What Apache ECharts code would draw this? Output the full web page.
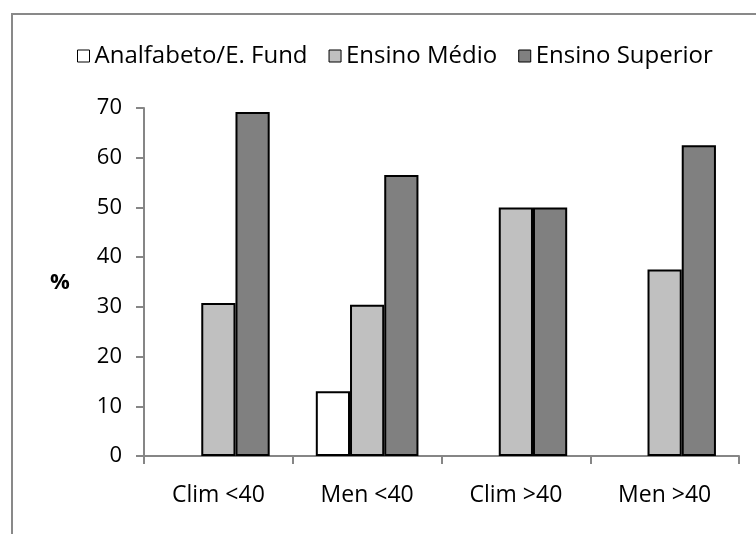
<!DOCTYPE html>
<html>
<head>
<meta charset="utf-8">
<style>
  html, body { margin: 0; padding: 0; background: #fff; }
  #chart { width: 756px; height: 534px; }
</style>
<script src="https://cdn.jsdelivr.net/npm/echarts@6/dist/echarts.min.js"></script>
</head>
<body>
<div id="chart"></div>
<script>
// Share (%) of each education level within each group
const categories = ['Clim <40', 'Men <40', 'Clim >40', 'Men >40'];
const seriesNames = ['Analfabeto/E. Fund', 'Ensino Médio', 'Ensino Superior'];
const analfabeto = [null, 13.0, null, null];
const medio = [30.8, 30.4, 50.0, 37.5];
const superior = [69.2, 56.5, 50.0, 62.5];
const yTicks = { min: 0, max: 70, interval: 10 };

const FONT = '"Open Sans", sans-serif';
const fills = ['#ffffff', '#c0c0c0', '#808080'];
const values = [analfabeto, medio, superior];

const chart = echarts.init(document.getElementById('chart'), null, { renderer: 'canvas' });

chart.setOption({
  animation: false,
  backgroundColor: '#ffffff',
  textStyle: { fontFamily: FONT },
  graphic: [{
    type: 'rect',
    shape: { x: 12, y: 14, width: 800, height: 600 },
    style: { fill: 'none', stroke: '#898989', lineWidth: 2 },
    silent: true
  }, {
    type: 'text',
    left: 50,
    top: 272,
    style: { text: '%', font: 'bold 22px ' + FONT, fill: '#000' }
  }],
  legend: {
    left: 72,
    top: 39,
    icon: 'rect',
    itemWidth: 12,
    itemHeight: 12,
    itemGap: 21,
    textStyle: { fontSize: 24, color: '#000', fontFamily: FONT },
    data: seriesNames.map(n => ({ name: n, itemStyle: { borderColor: '#000', borderWidth: 1 } }))
  },
  grid: { left: 144, right: 17, top: 108, bottom: 78, containLabel: false },
  xAxis: {
    type: 'category',
    data: categories,
    axisLine: { lineStyle: { color: '#868686', width: 2 } },
    axisTick: { show: true, length: 8, lineStyle: { color: '#868686', width: 2 } },
    axisLabel: { color: '#000', fontSize: 23, margin: 28, fontFamily: FONT }
  },
  yAxis: {
    type: 'value',
    min: yTicks.min,
    max: yTicks.max,
    interval: yTicks.interval,
    splitLine: { show: false },
    axisLine: { show: true, lineStyle: { color: '#868686', width: 2 } },
    axisTick: { show: true, length: 8, lineStyle: { color: '#868686', width: 2 } },
    axisLabel: { color: '#000', fontSize: 22, margin: 22, fontFamily: FONT }
  },
  series: seriesNames.map((name, i) => ({
    name: name,
    type: 'bar',
    data: values[i],
    barGap: '0%',
    barCategoryGap: '31%',
    itemStyle: { color: fills[i], borderColor: '#000', borderWidth: 2 }
  }))
});
</script>
</body>
</html>
